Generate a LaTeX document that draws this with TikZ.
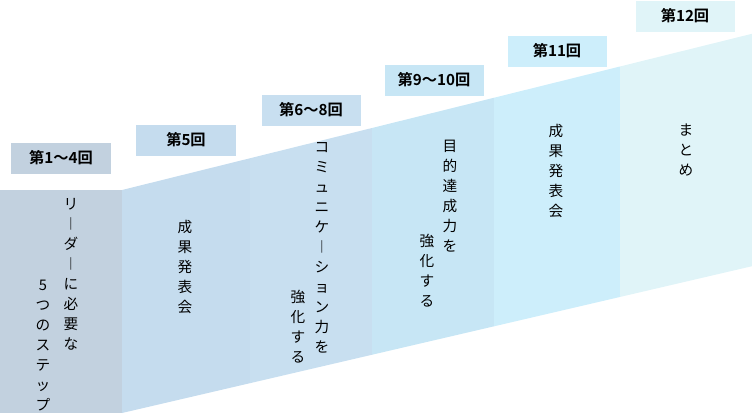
\documentclass[tikz,border=0pt]{standalone}
\usepackage{fontspec}
\setmainfont{Noto Sans CJK JP}
\newfontfamily\jpbold{Noto Sans CJK JP Bold}
\usetikzlibrary{positioning}
\tikzset{step box/.style={inner sep=0pt,minimum width=2.97cm,minimum height=0.93cm,font=\jpbold\fontsize{13}{13}\selectfont},
	tate/.style={anchor=north,align=center,inner sep=0pt,font=\fontsize{12.5}{17.1}\selectfont}}
\begin{document}
\begin{tikzpicture}[x=0.03cm,y=-0.03cm]
	\useasboundingbox (0,0) rectangle (752,413);
	% columns
	\fill[fill={rgb,255:red,194;green,209;blue,223}] (0,190) rectangle (122,413);
	\foreach \xa/\xb/\col in {122/250/C5DCEE,250/372/C8DFF0,372/494/C7E6F5,494/620/CDEEFB,620/752/E0F4F8}{
		\definecolor{colfill}{HTML}{\col}
		\fill[colfill] (\xa,{190-0.248*(\xa-122)}) -- (\xb,{190-0.248*(\xb-122)}) -- (\xb,{413-0.233*(\xb-122)}) -- (\xa,{413-0.233*(\xa-122)}) -- cycle;
	}
	% labels
	\node[step box,fill={rgb,255:red,194;green,209;blue,223}] (s1) at (61,158) {第1〜4回};
	\node[step box,fill={rgb,255:red,197;green,220;blue,238}] (s2) at (186,140) {第5回};
	\node[step box,fill={rgb,255:red,200;green,223;blue,240}] (s3) at (311,110) {第6〜8回};
	\node[step box,fill={rgb,255:red,199;green,230;blue,245}] (s4) at (434,80) {第9〜10回};
	\node[step box,fill={rgb,255:red,205;green,238;blue,251}] (s5) at (557,51) {第11回};
	\node[step box,fill={rgb,255:red,224;green,244;blue,248}] (s6) at (685,16) {第12回};
	% texts
	\node[tate] (t1a) at (71,198) {リ\\︱\\ダ\\︱\\に\\必\\要\\な};
	\node[tate] (t1b) at (43,280) {5\\つ\\の\\ス\\テ\\ッ\\プ};
	\node[tate] (t2) at (185,220) {成\\果\\発\\表\\会};
	\node[tate] (t3a) at (322,142) {コ\\ミ\\ュ\\ニ\\ケ\\︱\\シ\\ョ\\ン\\力\\を};
	\node[tate] (t3b) at (298,290) {強\\化\\す\\る};
	\node[tate] (t4a) at (450,140) {目\\的\\達\\成\\力\\を};
	\node[tate] (t4b) at (427,234) {強\\化\\す\\る};
	\node[tate] (t5) at (556,124) {成\\果\\発\\表\\会};
	\node[tate] (t6) at (686,124) {ま\\と\\め};
\end{tikzpicture}
\end{document}
